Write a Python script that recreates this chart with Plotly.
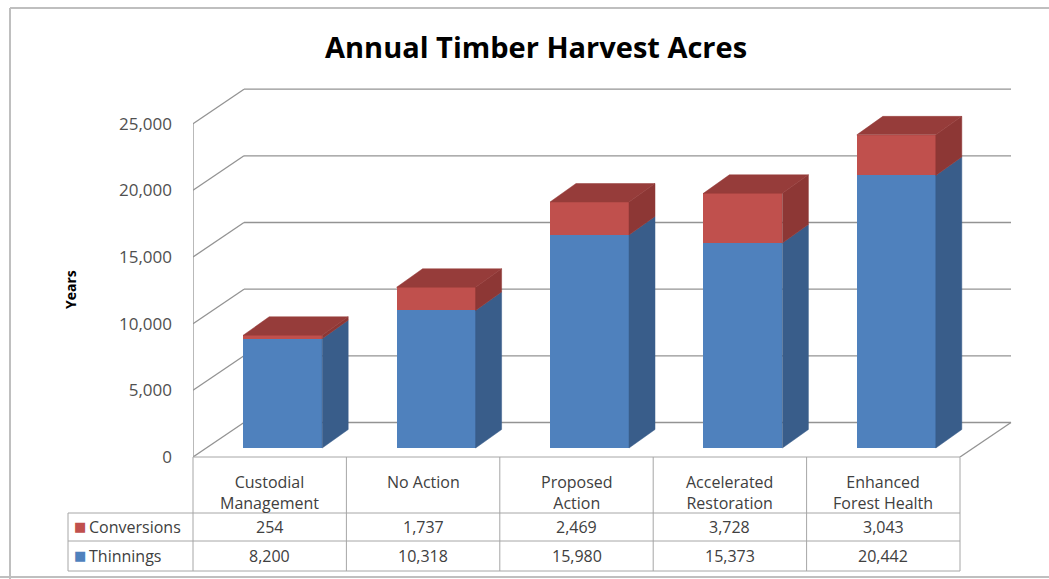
import plotly.graph_objects as go

# ---------------- data ----------------
categories = ["Custodial Management", "No Action", "Proposed Action",
              "Accelerated Restoration", "Enhanced Forest Health"]
category_labels = ["Custodial<br>Management", "No Action", "Proposed<br>Action",
                   "Accelerated<br>Restoration", "Enhanced<br>Forest Health"]
series_names = ["Conversions", "Thinnings"]
conversions = [254, 1737, 2469, 3728, 3043]
thinnings = [8200, 10318, 15980, 15373, 20442]
y_ticks = [0, 5000, 10000, 15000, 20000, 25000]
title_text = "Annual Timber Harvest Acres"
y_title = "Years"

# ---------------- geometry / style ----------------
W, H = 1049, 579
PX_L, PX_R = 193, 1013
PX_T, PX_B = 88, 457
COLW = 153.4
VPP = 75.0  # value units per pixel

def dx_px(p):
    return p / COLW

x_range = [-0.5, -0.5 + dx_px(PX_R - PX_L)]
y_range = [0, (PX_B - PX_T) * VPP]

DX, DY = dx_px(51), 34.5 * VPP      # wall depth
FX, FY = dx_px(13), 9 * VPP         # bar front-face recess
SX, SY = dx_px(26), 18.5 * VPP      # bar depth
BW = dx_px(79)

BLUE, BLUE_SIDE = "#4F81BD", "#395D8A"
RED, RED_SIDE, RED_TOP = "#C0504D", "#8D3735", "#963C3A"
GRID = "#939393"
FONT = "Open Sans"

def paper_x(px):
    return (px - PX_L) / (PX_R - PX_L)

def paper_y(py):
    return (PX_B - py) / (PX_B - PX_T)

def data_to_px(x):
    return PX_L + (x + 0.5) * COLW

n = len(categories)
fig = go.Figure()
shapes = []

# ---------------- walls / grid (below traces) ----------------
GLINE = dict(color=GRID, width=1.3)
def grid_line(x0, y0, x1, y1):
    shapes.append(dict(type="line", xref="x", yref="y", x0=x0, y0=y0, x1=x1, y1=y1,
                       line=GLINE, layer="below"))

for v in y_ticks:
    grid_line(-0.5 + DX, v + DY, n - 0.5 + DX, v + DY)   # back wall
    grid_line(-0.5, v, -0.5 + DX, v + DY)                 # side wall diagonal
grid_line(-0.5, y_ticks[0], -0.5, y_ticks[-1])            # front vertical axis line
grid_line(n - 0.5, 0, n - 0.5 + DX, DY)                   # floor right diagonal

# ---------------- bars (front faces) ----------------
xs = [i + FX for i in range(n)]
fig.add_trace(go.Bar(x=xs, y=thinnings, base=[FY] * n, width=BW, name=series_names[1],
                     marker=dict(color=BLUE, line=dict(width=0)), showlegend=False))
fig.add_trace(go.Bar(x=xs, y=conversions, base=[FY + t for t in thinnings], width=BW,
                     name=series_names[0], marker=dict(color=RED, line=dict(width=0)),
                     showlegend=False))

# ---------------- bar side and top faces ----------------
def side_poly(i, y0, y1):
    xr = i + FX + BW / 2
    return ([xr, xr + SX, xr + SX, xr, xr, None],
            [y0 + FY, y0 + FY + SY, y1 + FY + SY, y1 + FY, y0 + FY, None])

def top_poly(i, y):
    xl = i + FX - BW / 2
    xr = i + FX + BW / 2
    return ([xl, xr, xr + SX, xl + SX, xl, None],
            [y + FY, y + FY, y + FY + SY, y + FY + SY, y + FY, None])

bsx, bsy, rsx, rsy, rtx, rty = [], [], [], [], [], []
for i in range(n):
    a, b = side_poly(i, 0, thinnings[i]); bsx += a; bsy += b
    a, b = side_poly(i, thinnings[i], thinnings[i] + conversions[i]); rsx += a; rsy += b
    a, b = top_poly(i, thinnings[i] + conversions[i]); rtx += a; rty += b

for px_, py_, col in [(bsx, bsy, BLUE_SIDE), (rsx, rsy, RED_SIDE), (rtx, rty, RED_TOP)]:
    fig.add_trace(go.Scatter(x=px_, y=py_, mode="lines", fill="toself", fillcolor=col,
                             line=dict(width=0.5, color=col), hoverinfo="skip",
                             showlegend=False))

# ---------------- data table ----------------
TBL_TOP, ROW1, ROW2, TBL_BOT = 457, 513, 541, 571
LEG_L = 68
LINE = dict(color="#A6A6A6", width=1)
col_edges = [data_to_px(i - 0.5) for i in range(n + 1)]
shapes.append(dict(type="line", xref="paper", yref="paper", x0=paper_x(col_edges[0]),
                   x1=paper_x(col_edges[-1]), y0=paper_y(TBL_TOP), y1=paper_y(TBL_TOP), line=LINE))
for yy in [ROW1, ROW2, TBL_BOT]:
    shapes.append(dict(type="line", xref="paper", yref="paper", x0=paper_x(LEG_L),
                       x1=paper_x(col_edges[-1]), y0=paper_y(yy), y1=paper_y(yy), line=LINE))
for ce in col_edges:
    shapes.append(dict(type="line", xref="paper", yref="paper", x0=paper_x(ce), x1=paper_x(ce),
                       y0=paper_y(TBL_TOP), y1=paper_y(TBL_BOT), line=LINE))
shapes.append(dict(type="line", xref="paper", yref="paper", x0=paper_x(LEG_L), x1=paper_x(LEG_L),
                   y0=paper_y(ROW1), y1=paper_y(TBL_BOT), line=LINE))
# outer frame
FRAME = dict(color="#BFBFBF", width=2)
shapes.append(dict(type="line", xref="paper", yref="paper", x0=paper_x(10), x1=paper_x(10),
                   y0=paper_y(8), y1=paper_y(579), line=FRAME))
shapes.append(dict(type="line", xref="paper", yref="paper", x0=paper_x(10), x1=paper_x(1049),
                   y0=paper_y(8), y1=paper_y(8), line=FRAME))
shapes.append(dict(type="line", xref="paper", yref="paper", x0=paper_x(0), x1=paper_x(1049),
                   y0=paper_y(577), y1=paper_y(577), line=FRAME))

annotations = []
TXT = dict(family=FONT, size=16, color="#404040")
for i, lab in enumerate(category_labels):
    annotations.append(dict(x=paper_x(data_to_px(i)), y=paper_y(469), xref="paper", yref="paper",
                            text=lab, showarrow=False, xanchor="center", yanchor="top",
                            font=TXT, align="center"))
    annotations.append(dict(x=paper_x(data_to_px(i)), y=paper_y((ROW1 + ROW2) / 2), xref="paper",
                            yref="paper", text=f"{conversions[i]:,}", showarrow=False,
                            xanchor="center", yanchor="middle", font=TXT))
    annotations.append(dict(x=paper_x(data_to_px(i)), y=paper_y((ROW2 + TBL_BOT) / 2), xref="paper",
                            yref="paper", text=f"{thinnings[i]:,}", showarrow=False,
                            xanchor="center", yanchor="middle", font=TXT))
for name, col, (ya, yb) in [(series_names[0], RED, (ROW1, ROW2)), (series_names[1], BLUE, (ROW2, TBL_BOT))]:
    annotations.append(dict(x=paper_x(80), y=paper_y((ya + yb) / 2 - 1), xref="paper", yref="paper",
                            text="■", showarrow=False, xanchor="center", yanchor="middle",
                            font=dict(family="DejaVu Sans", size=13, color=col)))
    annotations.append(dict(x=paper_x(87), y=paper_y((ya + yb) / 2), xref="paper", yref="paper",
                            text=name, showarrow=False, xanchor="left", yanchor="middle", font=TXT))

annotations.append(dict(x=paper_x(70), y=paper_y(290), xref="paper", yref="paper", text=f"<b>{y_title}</b>",
                        showarrow=False, textangle=-90, xanchor="center", yanchor="middle",
                        font=dict(family=FONT, size=14, color="#000000")))
annotations.append(dict(x=paper_x(536), y=paper_y(46), xref="paper", yref="paper",
                        text=f"<b>{title_text}</b>", showarrow=False, xanchor="center", yanchor="middle",
                        font=dict(family=FONT, size=29, color="#000000")))

fig.update_layout(
    width=W, height=H,
    margin=dict(l=PX_L, r=W - PX_R, t=PX_T, b=H - PX_B, pad=0),
    paper_bgcolor="white", plot_bgcolor="white",
    barmode="overlay", bargap=0,
    showlegend=False,
    shapes=shapes, annotations=annotations,
    xaxis=dict(range=x_range, showgrid=False, zeroline=False, showticklabels=False,
               showline=False, ticks="", fixedrange=True),
    yaxis=dict(range=y_range, tickvals=y_ticks, ticktext=[f"{v:,}" for v in y_ticks],
               showgrid=False, zeroline=False, showline=False, ticks="", ticklabelstandoff=20,
               tickfont=dict(family=FONT, size=17, color="#505050"), fixedrange=True),
)

fig.write_html("out.html", config={"displayModeBar": False},
               post_script="document.body.style.margin='0px';")
